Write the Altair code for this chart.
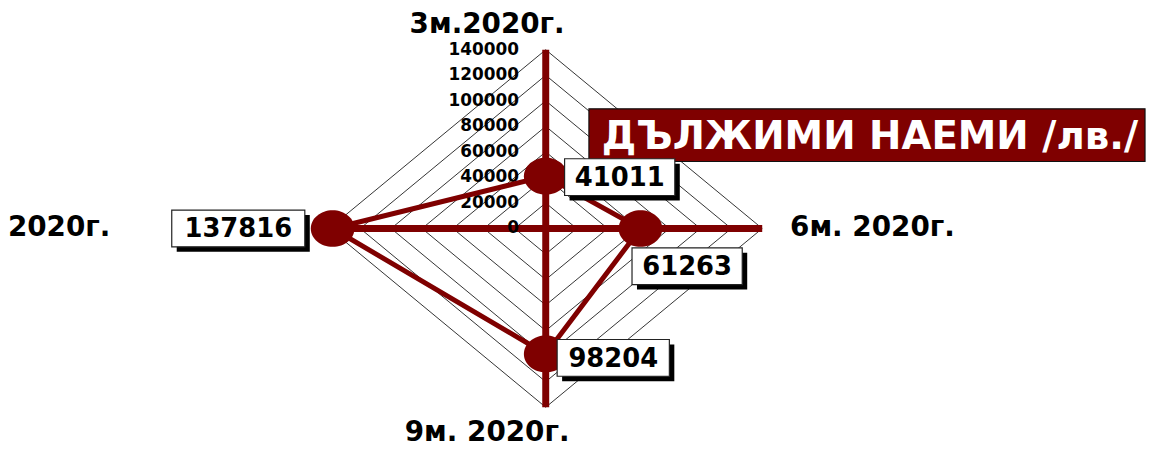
import altair as alt
import pandas as pd

# ---- data ----
categories = ["3м.2020г.", "6м. 2020г.", "9м. 2020г.", "2020г."]
values = [41011, 61263, 98204, 137816]
tick_values = [0, 20000, 40000, 60000, 80000, 100000, 120000, 140000]
title_text = "ДЪЛЖИМИ НАЕМИ /лв./"

# ---- layout / style (pixels) ----
W, H = 1148, 442
CX, CY = 541.5, 220.5        # centre of the radar in chart pixels
RX, RY = 218.0, 180.0        # pixel radius of 140000 along x / y
VMAX = 140000
kx = VMAX / RX               # data units per pixel (horizontal)
ky = VMAX / RY               # data units per pixel (vertical)
dirs = [(0, 1), (1, 0), (0, -1), (-1, 0)]   # up, right, down, left
label_off = [(74.5, 1), (47, 38), (68, 4), (-95, 0)]   # px offsets of value boxes
box_w = [111, 111, 113, 134]
box_h = 37
cat_off = [(-59, -25), (111, 0), (-59, 26), (-272, 0)]  # px offsets of axis titles from axis ends
RED = "#7f0000"
FONT = "DejaVu Sans"

xs = alt.Scale(domain=[-CX * kx, (W - CX) * kx], range=[0, W], nice=False, zero=False)
ys = alt.Scale(domain=[-(H - CY) * ky, CY * ky], range=[H, 0], nice=False, zero=False)
X = lambda f, **k: alt.X(f, type="quantitative", scale=xs, axis=None, **k)
Y = lambda f, **k: alt.Y(f, type="quantitative", scale=ys, axis=None, **k)

# grid rings (diamonds)
grid_rows = []
for t in tick_values[1:]:
    for i, (dx, dy) in enumerate(dirs + [dirs[0]]):
        grid_rows.append({"ring": t, "o": i, "x": dx * t, "y": dy * t})
grid_df = pd.DataFrame(grid_rows)
grid = alt.Chart(grid_df).mark_line(color="#333333", strokeWidth=1).encode(
    x=X("x"), y=Y("y"), detail="ring:N", order="o:Q")

# axes
axes_df = pd.DataFrame({"x": [-VMAX, 0], "x2": [VMAX, 0], "y": [0, -VMAX], "y2": [0, VMAX]})
axes = alt.Chart(axes_df).mark_rule(color=RED, strokeWidth=7, strokeCap="butt").encode(
    x=X("x"), x2="x2", y=Y("y"), y2="y2")

# radar polygon
pts = pd.DataFrame({
    "cat": categories,
    "v": values,
    "x": [v * d[0] for v, d in zip(values, dirs)],
    "y": [v * d[1] for v, d in zip(values, dirs)],
    "o": list(range(4)),
})
poly_df = pd.concat([pts, pts.iloc[[0]].assign(o=4)], ignore_index=True)
radar = alt.Chart(poly_df).mark_line(color=RED, strokeWidth=5, strokeJoin="miter").encode(
    x=X("x"), y=Y("y"), order="o:Q")
ellipse = "M-1,0A1,0.84,0,1,1,1,0A1,0.84,0,1,1,-1,0Z"
points = alt.Chart(pts).mark_point(shape=ellipse, size=44 * 44, filled=True, color=RED,
                                    opacity=1).encode(x=X("x"), y=Y("y"))

# tick labels
tick_df = pd.DataFrame({"t": tick_values, "label": [str(t) for t in tick_values], "x": [0] * len(tick_values)})
ticks = alt.Chart(tick_df).mark_text(align="right", baseline="middle", dx=-27, font=FONT,
                                     fontWeight="bold", fontSize=17, color="black").encode(
    x=X("x"), y=Y("t"), text="label:N")

# value label boxes
lab = pts.copy()
lab["cx"] = [x + o[0] * kx for x, o in zip(lab["x"], label_off)]
lab["cy"] = [y - o[1] * ky for y, o in zip(lab["y"], label_off)]
lab["x1"] = [c - w / 2 * kx for c, w in zip(lab["cx"], box_w)]
lab["x2"] = [c + w / 2 * kx for c, w in zip(lab["cx"], box_w)]
lab["y1"] = lab["cy"] - box_h / 2 * ky
lab["y2"] = lab["cy"] + box_h / 2 * ky
lab["txt"] = [str(v) for v in values]
shadow = alt.Chart(lab).mark_rect(color="black", xOffset=5, x2Offset=5, yOffset=5, y2Offset=5).encode(
    x=X("x1"), x2="x2", y=Y("y1"), y2="y2")
boxes = alt.Chart(lab).mark_rect(fill="white", stroke="#222222", strokeWidth=1.2).encode(
    x=X("x1"), x2="x2", y=Y("y1"), y2="y2")
btext = alt.Chart(lab).mark_text(font=FONT, fontWeight="bold", fontSize=26, color="black",
                                 baseline="middle", align="center", dy=1).encode(
    x=X("cx"), y=Y("cy"), text="txt:N")

# axis category labels
cat_df = pd.DataFrame({
    "cat": categories,
    "x": [d[0] * VMAX + o[0] * kx for d, o in zip(dirs, cat_off)],
    "y": [d[1] * VMAX - o[1] * ky for d, o in zip(dirs, cat_off)],
})
cats = alt.Chart(cat_df).mark_text(font=FONT, fontWeight="bold", fontSize=28, color="black",
                                   baseline="middle", align="center").encode(
    x=X("x"), y=Y("y"), text="cat:N")

# title box
tdf = pd.DataFrame({"t": [title_text]})
tbox = alt.Chart(tdf).mark_rect(fill=RED, stroke="#111111", strokeWidth=1.2).encode(
    x=alt.value(585), x2=alt.value(1145), y=alt.value(100), y2=alt.value(153))
ttext = alt.Chart(tdf).mark_text(font=FONT, fontWeight="bold", fontSize=39, color="white",
                                 baseline="middle", align="center").encode(
    x=alt.value(868), y=alt.value(128), text="t:N")

chart = alt.layer(grid, axes, ticks, radar, points, tbox, ttext, shadow, boxes, btext, cats).properties(
    width=W, height=H, padding=0, autosize=alt.AutoSizeParams(type="none"),
    background="white"
).configure_view(stroke=None)

chart.save("out.html", embed_options={"renderer": "svg", "actions": False})
